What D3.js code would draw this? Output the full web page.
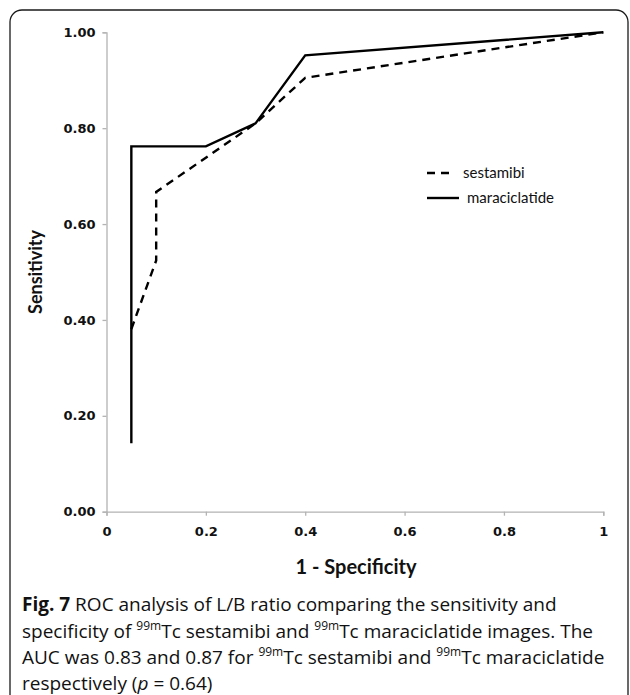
<!DOCTYPE html>
<html>
<head>
<meta charset="utf-8">
<script src="https://cdn.jsdelivr.net/npm/d3@7"></script>
<style>
  html, body { margin: 0; padding: 0; background: #fff; }
  svg { display: block; }
</style>
</head>
<body>
<div id="chart"></div>
<script>
// ROC points (1 - specificity, sensitivity)
const sestamibiX = [0.05, 0.1, 0.1, 0.3, 0.4, 1];
const sestamibiY = [0.381, 0.524, 0.667, 0.810, 0.905, 1];
const maraciclatideX = [0.05, 0.05, 0.2, 0.3, 0.4, 1];
const maraciclatideY = [0.143, 0.762, 0.762, 0.810, 0.952, 1];

const xTicks = [0, 0.2, 0.4, 0.6, 0.8, 1];
const yTicks = [0, 0.2, 0.4, 0.6, 0.8, 1];
const legendLabels = ["sestamibi", "maraciclatide"];

const W = 630, H = 695;
const svg = d3.select("#chart").append("svg")
  .attr("width", W)
  .attr("height", H);

// rounded frame, open at the bottom
svg.append("rect")
  .attr("x", 10).attr("y", 10)
  .attr("width", 618).attr("height", 740)
  .attr("rx", 12)
  .attr("fill", "none")
  .attr("stroke", "#1a1a1a")
  .attr("stroke-width", 1.3);

const x = d3.scaleLinear().domain([0, 1]).range([106.5, 603.3]);
const y = d3.scaleLinear().domain([0, 1]).range([511.7, 32.3]);

const axisColor = "#b3b3b3";

// y axis
const yAxis = svg.append("g")
  .attr("transform", `translate(${x(0)},0)`)
  .call(d3.axisLeft(y).tickValues(yTicks).tickFormat(d3.format(".2f")).tickSize(4).tickPadding(7));
// x axis
const xAxis = svg.append("g")
  .attr("transform", `translate(0,${y(0)})`)
  .call(d3.axisBottom(x).tickValues(xTicks).tickFormat(d => d === 0 || d === 1 ? d3.format("d")(d) : d3.format(".1f")(d)).tickSize(4).tickPadding(11));

[yAxis, xAxis].forEach(a => {
  a.select(".domain").attr("stroke", axisColor).attr("stroke-width", 1.3);
  a.selectAll(".tick line").attr("stroke", axisColor).attr("stroke-width", 1.3);
  a.selectAll("text")
    .attr("fill", "#111")
    .style("font-family", "DejaVu Sans")
    .style("font-weight", "bold")
    .style("font-size", "13px");
});

// axis titles
svg.append("text")
  .attr("x", 356).attr("y", 574)
  .attr("text-anchor", "middle")
  .style("font-family", "Lato")
  .style("font-weight", "bold")
  .style("font-size", "20px")
  .attr("fill", "#111")
  .text("1 - Specificity");

svg.append("text")
  .attr("transform", "translate(42,272) rotate(-90)")
  .attr("text-anchor", "middle")
  .style("font-family", "Lato")
  .style("font-weight", "bold")
  .style("font-size", "18px")
  .attr("fill", "#111")
  .text("Sensitivity");

// lines
const line = d3.line().x(d => x(d[0])).y(d => y(d[1]));

svg.append("path")
  .datum(d3.zip(sestamibiX, sestamibiY))
  .attr("d", line)
  .attr("fill", "none")
  .attr("stroke", "#000")
  .attr("stroke-width", 2.4)
  .attr("stroke-dasharray", "8,6");

svg.append("path")
  .datum(d3.zip(maraciclatideX, maraciclatideY))
  .attr("d", line)
  .attr("fill", "none")
  .attr("stroke", "#000")
  .attr("stroke-width", 2.4);

// legend
const legend = svg.append("g");
legendLabels.forEach((lab, i) => {
  const ly = 173 + i * 25;
  legend.append("line")
    .attr("x1", 427).attr("x2", i === 0 ? 452 : 459)
    .attr("y1", ly).attr("y2", ly)
    .attr("stroke", "#000")
    .attr("stroke-width", 2.4)
    .attr("stroke-dasharray", i === 0 ? "8,6" : null);
  legend.append("text")
    .attr("x", i === 0 ? 463 : 467)
    .attr("y", ly + 5)
    .style("font-family", "Lato")
    .style("font-size", "15px")
    .attr("fill", "#111")
    .text(lab);
});

// caption
const caption = svg.append("text")
  .attr("x", 22)
  .style("font-family", "Open Sans")
  .style("font-size", "19px")
  .attr("fill", "#111");

const capLines = [
  [["b", "Fig. 7"], ["", " ROC analysis of L/B ratio comparing the sensitivity and"]],
  [["", "specificity of "], ["sup", "99m"], ["", "Tc sestamibi and "], ["sup", "99m"], ["", "Tc maraciclatide images. The"]],
  [["", "AUC was 0.83 and 0.87 for "], ["sup", "99m"], ["", "Tc sestamibi and "], ["sup", "99m"], ["", "Tc maraciclatide"]],
  [["", "respectively ("], ["i", "p"], ["", " = 0.64)"]]
];
const baselines = [611, 638, 664, 690];

capLines.forEach((parts, li) => {
  parts.forEach((p, pi) => {
    const ts = caption.append("tspan").text(p[1]);
    if (pi === 0) ts.attr("x", 22).attr("y", baselines[li]);
    if (p[0] === "b") ts.style("font-weight", "bold");
    if (p[0] === "i") ts.style("font-style", "italic");
    if (p[0] === "sup") {
      ts.style("font-size", "12px").attr("dy", -8);
      const next = parts[pi + 1];
      if (next) next.push("down");
    }
    if (p[2] === "down") ts.attr("dy", 8);
  });
});
</script>
</body>
</html>
